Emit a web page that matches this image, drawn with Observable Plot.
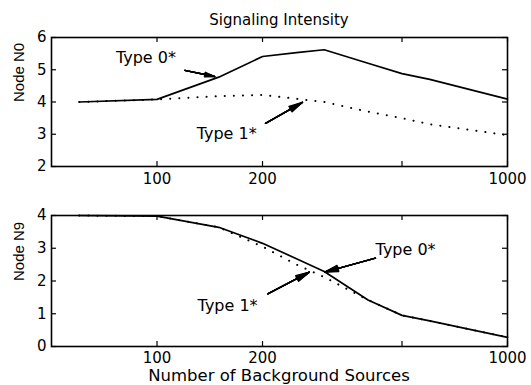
<!DOCTYPE html>
<html><head><meta charset="utf-8">
<script src="https://cdn.jsdelivr.net/npm/d3@7"></script>
<script src="https://cdn.jsdelivr.net/npm/@observablehq/plot@0.6"></script>
<style>
body{margin:0;background:#fff;}
#wrap{position:relative;width:531px;height:385px;font-family:"DejaVu Sans",sans-serif;color:#000;overflow:hidden;}
#title{position:absolute;top:11px;left:0;width:558px;text-align:center;font-size:15px;line-height:18px;}
#xlabel{position:absolute;top:367px;left:0;width:558px;text-align:center;font-size:16.5px;line-height:18px;}
#p1{position:absolute;top:0;left:0;}
#p2{position:absolute;top:190px;left:0;}
</style></head><body>
<div id="wrap">
<div id="p1"></div>
<div id="p2"></div>
<div id="title">Signaling Intensity</div>
<div id="xlabel">Number of Background Sources</div>
</div>
<script>
// ---- data ----
const xTicks = [100, 200, 500, 1000];
const sources = [60, 100, 150, 200, 250, 300, 400, 500, 600, 1000];
const n0Type0 = [4.0, 4.08, 4.77, 5.41, 5.53, 5.62, 5.20, 4.88, 4.70, 4.09];
const n0Type1 = [4.0, 4.08, 4.18, 4.22, 4.10, 4.00, 3.70, 3.50, 3.31, 2.97];
const n9Type0 = [4.0, 3.98, 3.64, 3.15, 2.68, 2.29, 1.42, 0.95, 0.78, 0.28];
const n9Type1 = [4.0, 3.98, 3.64, 3.05, 2.50, 2.12, 1.42, 0.95, 0.78, 0.28];
const n0YTicks = [2, 3, 4, 5, 6];
const n9YTicks = [0, 1, 2, 3, 4];

// annotations (data units)
const n0Labels = ["Type 0*", "Type 1*"];
const n0LabelX = [93, 158];
const n0LabelY = [5.38, 3.01];
const n0ArrowX1 = [120, 204];
const n0ArrowY1 = [4.98, 3.34];
const n0ArrowX2 = [146, 260];
const n0ArrowY2 = [4.79, 3.99];

const n9Labels = ["Type 0*", "Type 1*"];
const n9LabelX = [512, 159];
const n9LabelY = [2.96, 1.25];
const n9ArrowX1 = [420, 207];
const n9ArrowY1 = [2.70, 1.61];
const n9ArrowX2 = [301, 272];
const n9ArrowY2 = [2.27, 2.27];

const FONT = "DejaVu Sans";

function panel({height, mt, mb, yDomain, yTicks, yLabel, s0, s1, labels, lx, ly, ax1, ay1, ax2, ay2, tickPad}) {
  const W = 531, ml = 51, mr = 24;
  const innerW = W - ml - mr, innerH = height - mt - mb;
  const rows0 = sources.map((s, i) => ({x: s, y: s0[i]}));
  const rows1 = sources.map((s, i) => ({x: s, y: s1[i]}));
  const ann = labels.map((t, i) => ({t, x: lx[i], y: ly[i]}));
  const arr = ax1.map((v, i) => ({x1: v, y1: ay1[i], x2: ax2[i], y2: ay2[i]}));
  const arrowMarks = [26, 19, 12, 6, 1].map(a => Plot.arrow(arr, {x1: "x1", y1: "y1", x2: "x2", y2: "y2", headAngle: a, headLength: 15, strokeWidth: 1.4, stroke: "#000"}));
  return Plot.plot({
    width: W, height,
    marginLeft: ml, marginRight: mr, marginTop: mt, marginBottom: mb,
    style: {fontFamily: FONT, fontSize: "15px", background: "transparent", color: "#000", overflow: "visible"},
    x: {type: "log", domain: [50, 1000]},
    y: {domain: yDomain},
    marks: [
      Plot.line(rows1, {x: "x", y: "y", stroke: "#000", strokeWidth: 2, strokeDasharray: "0.1,9", strokeLinecap: "round"}),
      Plot.line(rows0, {x: "x", y: "y", stroke: "#000", strokeWidth: 1.7}),
      ...arrowMarks,
      Plot.text(ann, {x: "x", y: "y", text: "t", fontSize: 16, fontFamily: FONT, fill: "#000"}),
      Plot.tickX(xTicks, {x: d => d, insetTop: innerH - 5, stroke: "#000", strokeWidth: 1.2}),
      Plot.tickX(xTicks, {x: d => d, insetBottom: innerH - 5, stroke: "#000", strokeWidth: 1.2}),
      Plot.tickY(yTicks, {y: d => d, insetRight: innerW - 5, stroke: "#000", strokeWidth: 1.2}),
      Plot.tickY(yTicks, {y: d => d, insetLeft: innerW - 5, stroke: "#000", strokeWidth: 1.2}),
      Plot.frame({stroke: "#000", strokeWidth: 1.6}),
      Plot.axisX(xTicks, {tickSize: 0, tickPadding: tickPad, tickFormat: d => String(d), label: null, fontSize: 15}),
      Plot.axisY(yTicks, {tickSize: 0, tickPadding: 5, tickFormat: d => String(d), label: null, fontSize: 15}),
      Plot.text([yLabel], {frameAnchor: "left", text: d => d, rotate: -90, dx: -32, fontSize: 15, fontFamily: "Liberation Sans", fill: "#000"})
    ]
  });
}

document.getElementById("p1").appendChild(panel({
  height: 190, mt: 37, mb: 24, yDomain: [2, 6], yTicks: n0YTicks, yLabel: "Node N0",
  s0: n0Type0, s1: n0Type1, labels: n0Labels, lx: n0LabelX, ly: n0LabelY,
  ax1: n0ArrowX1, ay1: n0ArrowY1, ax2: n0ArrowX2, ay2: n0ArrowY2, tickPad: 7
}));
document.getElementById("p2").appendChild(panel({
  height: 175, mt: 25, mb: 19, yDomain: [0, 4], yTicks: n9YTicks, yLabel: "Node N9",
  s0: n9Type0, s1: n9Type1, labels: n9Labels, lx: n9LabelX, ly: n9LabelY,
  ax1: n9ArrowX1, ay1: n9ArrowY1, ax2: n9ArrowX2, ay2: n9ArrowY2, tickPad: 6
}));
</script>
</body></html>
